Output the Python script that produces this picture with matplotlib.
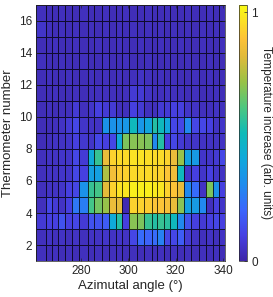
"""Thermometer map: temperature increase vs azimuthal angle."""

import matplotlib

matplotlib.use("Agg")
import matplotlib.pyplot as plt
import numpy as np
from matplotlib.colors import LinearSegmentedColormap

plt.rcParams["font.family"] = ["Liberation Sans", "DejaVu Sans"]

# Column edges of the thermometer map (deg) and row edges (thermometer number)
angle_edges = [261.0, 265.0, 267.7, 270.1, 273.2, 276.0, 279.2, 283.0, 285.3,
               288.7, 291.8, 294.8, 297.5, 300.1, 303.7, 306.8, 309.8, 312.1,
               314.9, 317.6, 320.6, 323.7, 326.5, 329.9, 332.8, 335.6, 338.1,
               340.8]
thermo_edges = list(range(1, 18))

# Temperature increase (arb. units), one row per thermometer, 1 -> 16
temp_rise = [
    [.04, .03, .04, .03, .04, .03, .04, .03, .04, .03, .04, .04, .03, .04, .03, .04, .03, .04, .03, .04, .03, .04, .03, .04, .03, .04, .03],
    [.04, .05, .04, .05, .04, .05, .04, .05, .05, .06, .05, .06, .05, .12, .22, .20, .22, .28, .12, .12, .18, .08, .05, .04, .05, .04, .05],
    [.08, .10, .10, .15, .10, .12, .08, .15, .15, .18, .42, .55, .10, .70, .68, .58, .55, .58, .56, .50, .30, .15, .10, .08, .10, .12, .10],
    [.04, .12, .08, .05, .10, .25, .27, .60, .67, .72, .85, .83, .02, .93, .93, .92, .90, .90, .88, .85, .70, .38, .36, .30, .04, .10, .06],
    [.04, .05, .05, .06, .10, .12, .33, .58, .60, .83, .93, .97, .98, 1.0, 1.0, 1.0, .99, .98, .93, .90, .84, .30, .22, .05, .68, .33, .10],
    [.04, .05, .05, .06, .06, .12, .10, .38, .38, .75, .87, .92, .93, .95, .95, .95, .94, .93, .90, .86, .50, .06, .10, .06, .10, .06, .05],
    [.04, .05, .05, .06, .06, .12, .08, .42, .58, .85, .93, .95, .95, .97, .97, .96, .95, .95, .93, .85, .72, .38, .36, .06, .06, .08, .12],
    [.03, .04, .05, .05, .06, .10, .07, .06, .12, .10, .12, .42, .68, .70, .70, .68, .30, .55, .10, .12, .08, .06, .06, .05, .05, .05, .05],
    [.03, .03, .04, .05, .08, .12, .06, .05, .05, .33, .33, .33, .35, .50, .35, .40, .55, .50, .40, .12, .12, .30, .12, .12, .10, .05, .06],
    [.03, .04, .03, .04, .04, .08, .04, .06, .10, .08, .08, .04, .04, .10, .08, .04, .04, .08, .08, .10, .10, .06, .05, .04, .04, .05, .04],
    [.03, .03, .04, .03, .03, .04, .03, .04, .04, .04, .04, .03, .04, .08, .08, .05, .04, .04, .05, .04, .04, .03, .04, .03, .03, .04, .03],
    [.03, .04, .03, .03, .04, .03, .03, .04, .03, .04, .03, .04, .03, .04, .05, .04, .03, .04, .03, .04, .03, .03, .04, .03, .04, .03, .03],
    [.04, .03, .03, .04, .03, .03, .04, .03, .03, .04, .03, .03, .04, .03, .03, .04, .03, .03, .04, .03, .03, .04, .03, .03, .04, .03, .03],
    [.03, .03, .04, .03, .03, .04, .03, .03, .04, .03, .03, .04, .03, .03, .04, .03, .03, .04, .03, .03, .04, .03, .03, .04, .03, .03, .04],
    [.06, .04, .03, .04, .03, .04, .03, .04, .03, .04, .03, .04, .03, .04, .03, .04, .03, .04, .03, .04, .03, .04, .03, .04, .03, .04, .03],
    [.04, .03, .03, .04, .03, .03, .04, .03, .03, .04, .03, .03, .04, .03, .03, .04, .03, .03, .04, .03, .03, .04, .03, .03, .04, .03, .03],
]

x_ticks = [280, 300, 320, 340]
y_ticks = [2, 4, 6, 8, 10, 12, 14, 16]
cbar_ticks = [0, 1]

# rough parula
parula = LinearSegmentedColormap.from_list("parula", [
    (0.00, (0.242, 0.150, 0.660)),
    (0.10, (0.275, 0.255, 0.890)),
    (0.20, (0.230, 0.400, 0.990)),
    (0.30, (0.120, 0.550, 0.930)),
    (0.40, (0.060, 0.660, 0.860)),
    (0.50, (0.060, 0.730, 0.720)),
    (0.60, (0.300, 0.780, 0.500)),
    (0.70, (0.600, 0.760, 0.280)),
    (0.80, (0.880, 0.730, 0.230)),
    (0.87, (0.990, 0.760, 0.220)),
    (1.00, (0.977, 0.984, 0.081)),
])

text_col = (0.15, 0.15, 0.15)

fig = plt.figure(figsize=(2.73, 2.97), dpi=100)
ax = fig.add_axes([0.132, 0.121, 0.692, 0.863])
cax = fig.add_axes([0.875, 0.121, 0.030, 0.863])

mesh = ax.pcolormesh(angle_edges, thermo_edges, np.array(temp_rise),
                     cmap=parula, vmin=0, vmax=1.03,
                     edgecolors=(0, 0, 0, 0.75), linewidth=0.4)

ax.set_xlim(angle_edges[0], angle_edges[-1])
ax.set_ylim(1, 17)
ax.set_xticks(x_ticks)
ax.set_yticks(y_ticks)
ax.tick_params(direction="in", labelsize=8.5, colors=text_col, length=2.5,
               width=0.5, top=True, right=True, pad=3)
for sp in ax.spines.values():
    sp.set_color(text_col)
    sp.set_linewidth(0.5)
ax.set_xlabel("Azimutal angle (°)", fontsize=9.5, color=text_col, labelpad=2)
ax.set_ylabel("Thermometer number", fontsize=9.5, color=text_col, labelpad=3)

cb = fig.colorbar(mesh, cax=cax, ticks=cbar_ticks)
cb.outline.set_edgecolor(text_col)
cb.outline.set_linewidth(0.5)
cax.tick_params(direction="in", labelsize=8.5, colors=text_col, length=2,
                width=0.5, pad=3)
cb.set_label("Temperature increase (arb. units)", fontsize=8.5,
             color=text_col, rotation=270, labelpad=10)

fig.savefig("out.png", dpi=100)
